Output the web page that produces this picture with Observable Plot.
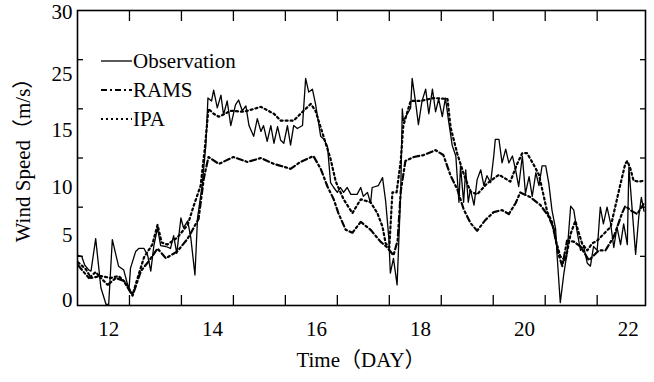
<!DOCTYPE html>
<html>
<head>
<meta charset="utf-8">
<script src="https://cdn.jsdelivr.net/npm/d3@7"></script>
<script src="https://cdn.jsdelivr.net/npm/@observablehq/plot@0.6"></script>
<style>
  html, body { margin: 0; padding: 0; background: #fff; }
  svg { display: block; }
  svg text { font-family: "Liberation Serif", "Noto Sans CJK JP", "DejaVu Serif", serif !important; }
</style>
</head>
<body>
<div id="chart"></div>
<script>
// ---- data ----
const seriesNames = ["Observation", "RAMS", "IPA"];

const obsDay = [11.41,11.48,11.54,11.62,11.66,11.75,11.85,11.95,12.00,12.07,12.19,12.29,12.39,12.42,12.52,12.58,12.68,12.75,12.81,12.87,12.94,13.00,13.10,13.19,13.25,13.31,13.39,13.44,13.52,13.58,13.66,13.71,13.80,13.87,13.91,13.98,14.02,14.09,14.16,14.21,14.28,14.35,14.44,14.50,14.57,14.64,14.70,14.79,14.86,14.93,14.98,15.05,15.12,15.18,15.25,15.31,15.37,15.44,15.50,15.56,15.63,15.73,15.79,15.85,15.92,15.98,16.08,16.14,16.21,16.27,16.33,16.40,16.46,16.52,16.59,16.66,16.78,16.85,16.90,16.98,17.04,17.07,17.19,17.27,17.33,17.39,17.42,17.48,17.55,17.62,17.65,17.67,17.75,17.81,17.84,17.91,17.96,18.03,18.10,18.16,18.23,18.29,18.35,18.42,18.48,18.54,18.61,18.68,18.74,18.77,18.83,18.87,18.92,18.96,19.03,19.09,19.16,19.22,19.28,19.35,19.41,19.44,19.51,19.57,19.64,19.70,19.77,19.83,19.89,19.96,20.02,20.09,20.15,20.22,20.28,20.34,20.41,20.47,20.53,20.60,20.63,20.69,20.76,20.82,20.89,20.95,21.02,21.08,21.14,21.21,21.27,21.33,21.40,21.46,21.52,21.59,21.66,21.72,21.78,21.85,21.91,21.98,22.01,22.07,22.14,22.20,22.25,22.30];
const obsSpeed = [5.1,5.0,4.1,3.6,3.5,6.8,1.8,0.1,0.1,6.7,4.0,3.6,1.6,3.8,5.5,5.8,5.8,5.1,3.5,6.1,7.9,6.1,6.0,5.8,7.1,5.3,8.9,7.9,8.6,6.9,3.1,8.9,12.3,16.3,21.1,20.8,21.9,20.1,21.4,19.4,20.8,18.3,20.4,20.9,19.8,20.3,18.3,17.2,19.0,17.7,18.3,16.7,18.3,16.5,18.2,16.8,16.5,18.3,16.3,18.3,18.0,18.3,23.1,21.7,22.0,20.5,17.2,16.9,16.2,12.5,12.0,11.5,12.0,11.5,12.0,11.3,11.3,12.0,11.1,11.5,10.4,12.0,12.2,13.0,10.6,6.9,3.3,4.8,2.1,11.6,20.0,18.8,19.5,20.1,23.1,20.5,18.4,20.8,22.0,19.5,22.0,19.7,21.0,19.2,21.1,18.8,16.3,15.2,10.5,14.2,10.5,13.8,10.5,11.8,10.2,12.8,13.8,12.2,13.2,12.5,15.2,16.9,16.9,14.5,15.9,14.5,15.2,13.8,12.1,15.2,11.4,13.1,11.1,13.5,12.2,14.2,14.2,12.4,9.7,7.8,5.0,0.3,3.3,5.3,10.1,9.7,7.3,5.6,6.0,4.3,4.0,6.0,5.6,10.0,8.3,10.0,8.3,5.9,8.0,6.2,8.3,6.2,14.1,10.0,5.2,9.0,11.0,9.6];

const ramsDay = [11.41,11.52,11.62,11.75,11.85,11.98,12.14,12.29,12.46,12.62,12.77,12.94,13.10,13.32,13.52,13.73,13.83,13.92,14.12,14.40,14.67,14.93,15.18,15.31,15.50,15.69,15.94,16.08,16.21,16.33,16.42,16.56,16.69,16.85,17.04,17.23,17.36,17.48,17.56,17.62,17.71,17.87,18.06,18.29,18.44,18.58,18.71,18.83,18.96,19.09,19.25,19.41,19.57,19.70,19.83,19.92,20.12,20.31,20.46,20.56,20.65,20.73,20.82,20.95,21.08,21.24,21.43,21.56,21.72,21.88,21.94,22.07,22.17,22.29];
const ramsSpeed = [4.1,3.4,2.8,3.4,2.8,2.1,2.8,2.5,1.0,3.5,4.5,5.8,4.8,5.5,6.8,8.8,12.9,15.1,14.4,15.1,14.6,15.0,14.4,14.2,13.9,14.6,15.2,13.9,12.1,10.8,9.4,7.7,7.4,8.5,7.7,6.5,5.9,5.1,6.6,11.6,14.7,15.1,15.3,15.8,15.3,13.2,11.8,9.8,8.4,7.6,8.7,9.5,9.7,9.3,10.4,11.5,11.0,10.2,9.1,7.9,5.3,4.0,6.6,6.5,6.0,4.6,5.6,5.6,7.0,9.4,10.1,9.6,9.3,10.3];

const ipaDay = [11.41,11.56,11.66,11.85,12.04,12.19,12.33,12.46,12.58,12.68,12.84,12.94,13.02,13.13,13.32,13.52,13.64,13.77,13.85,13.92,14.02,14.12,14.35,14.60,14.93,15.18,15.31,15.56,15.73,15.89,15.98,16.14,16.27,16.37,16.52,16.69,16.85,17.04,17.17,17.27,17.33,17.40,17.46,17.54,17.62,17.67,17.81,18.00,18.25,18.52,18.58,18.71,18.83,18.96,19.09,19.28,19.51,19.73,19.86,19.96,20.05,20.18,20.28,20.44,20.53,20.60,20.69,20.79,20.89,20.98,21.04,21.11,21.21,21.30,21.40,21.53,21.66,21.75,21.85,21.94,21.98,22.04,22.10,22.20,22.31];
const ipaSpeed = [4.4,3.7,2.8,3.0,2.8,3.0,2.3,1.1,3.2,4.9,6.2,8.2,6.4,6.2,6.9,8.2,10.2,12.2,16.0,20.0,19.5,19.2,19.8,19.7,20.2,19.5,18.8,18.8,19.7,20.5,19.8,17.1,14.9,12.6,10.8,9.4,10.8,10.5,9.4,8.0,6.3,5.9,11.5,11.5,14.7,18.3,20.8,20.8,21.1,21.0,18.1,15.4,13.4,11.6,11.3,12.4,13.3,12.6,14.4,15.5,15.5,14.3,13.3,9.5,8.5,6.7,5.0,4.6,7.3,8.6,7.5,6.3,5.6,6.3,6.6,7.3,8.0,10.1,12.4,14.4,14.7,13.9,12.7,12.6,12.7];

// axis tick marks and tick labels as printed
const xTickDays = [12.4,13.4,14.4,15.4,16.4,17.4,18.4,19.4,20.4,21.4];
const xLabelDays = [12,14,16,18,20,22];
const yTickValues = [5,10,15,20,25];
const yLabelValues = [0.5,7.1,12.0,17.8,23.5,29.8];
const yLabelTexts = ["0","5","10","15","25","30"];

const xTitle = "Time（DAY）";
const yTitle = "Wind Speed（m/s）";

// ---- chart ----
const W = 654, H = 382;
const FONT = '"Liberation Serif", "Noto Sans CJK JP", "DejaVu Serif", serif';
const IPA_DASH = "2,3";
const RAMS_DASH = "6,3,2,3";

const chart = Plot.plot({
  width: W,
  height: H,
  marginLeft: 77,
  marginRight: 9,
  marginTop: 10,
  marginBottom: 77,
  x: {domain: [11.4, 22.33]},
  y: {domain: [0, 30]},
  style: {fontFamily: FONT, fontSize: "21px", color: "#000", background: "#fff", overflow: "visible"},
  marks: [
    // tick labels
    Plot.axisX({ticks: xLabelDays, tickSize: 0, tickPadding: 16, tickFormat: d => String(d), label: null}),
    Plot.axisY({ticks: yLabelValues, tickSize: 0, tickPadding: 5, tickFormat: d => yLabelTexts[yLabelValues.indexOf(d)], label: null}),
    // inward tick marks on all four sides
    Plot.axisX({anchor: "bottom", ticks: xTickDays, tickSize: 10, dy: -10, fill: "none", label: null, strokeWidth: 1.3}),
    Plot.axisX({anchor: "top", ticks: xTickDays, tickSize: 10, dy: 10, fill: "none", label: null, strokeWidth: 1.3}),
    Plot.axisY({anchor: "left", ticks: yTickValues, tickSize: 6, dx: 6, fill: "none", label: null, strokeWidth: 1.3}),
    Plot.axisY({anchor: "right", ticks: yTickValues, tickSize: 6, dx: -6, fill: "none", label: null, strokeWidth: 1.3}),
    // series
    Plot.line(ipaSpeed, {x: ipaDay, y: ipaSpeed, stroke: "#000", strokeWidth: 2.2, strokeDasharray: IPA_DASH}),
    Plot.line(ramsSpeed, {x: ramsDay, y: ramsSpeed, stroke: "#000", strokeWidth: 2.2, strokeDasharray: RAMS_DASH}),
    Plot.line(obsSpeed, {x: obsDay, y: obsSpeed, stroke: "#000", strokeWidth: 1.3}),
    Plot.frame({stroke: "#000", strokeWidth: 1.6})
  ]
});

// axis titles and legend drawn into the same SVG
const svg = d3.select(chart);
svg.append("text")
  .attr("x", 361).attr("y", 367)
  .attr("text-anchor", "middle")
  .attr("font-family", FONT).attr("font-size", 21).attr("fill", "#000")
  .text(xTitle);
svg.append("text")
  .attr("transform", "translate(30,155) rotate(-90)")
  .attr("text-anchor", "middle")
  .attr("font-family", FONT).attr("font-size", 21).attr("fill", "#000")
  .text(yTitle);

const legendStyles = [
  {dash: null, width: 1.3},
  {dash: RAMS_DASH, width: 2.2},
  {dash: IPA_DASH, width: 2.2}
];
const legend = svg.append("g").attr("class", "legend");
seriesNames.forEach((name, i) => {
  const yLine = 61 + i * 29;
  const st = legendStyles[i];
  legend.append("line")
    .attr("x1", 101).attr("x2", 132).attr("y1", yLine).attr("y2", yLine)
    .attr("stroke", "#000").attr("stroke-width", st.width)
    .attr("stroke-dasharray", st.dash);
  legend.append("text")
    .attr("x", 133).attr("y", yLine + 7)
    .attr("text-anchor", "start")
    .attr("font-family", FONT).attr("font-size", 21).attr("fill", "#000")
    .text(name);
});

document.getElementById("chart").appendChild(chart);
</script>
</body>
</html>
